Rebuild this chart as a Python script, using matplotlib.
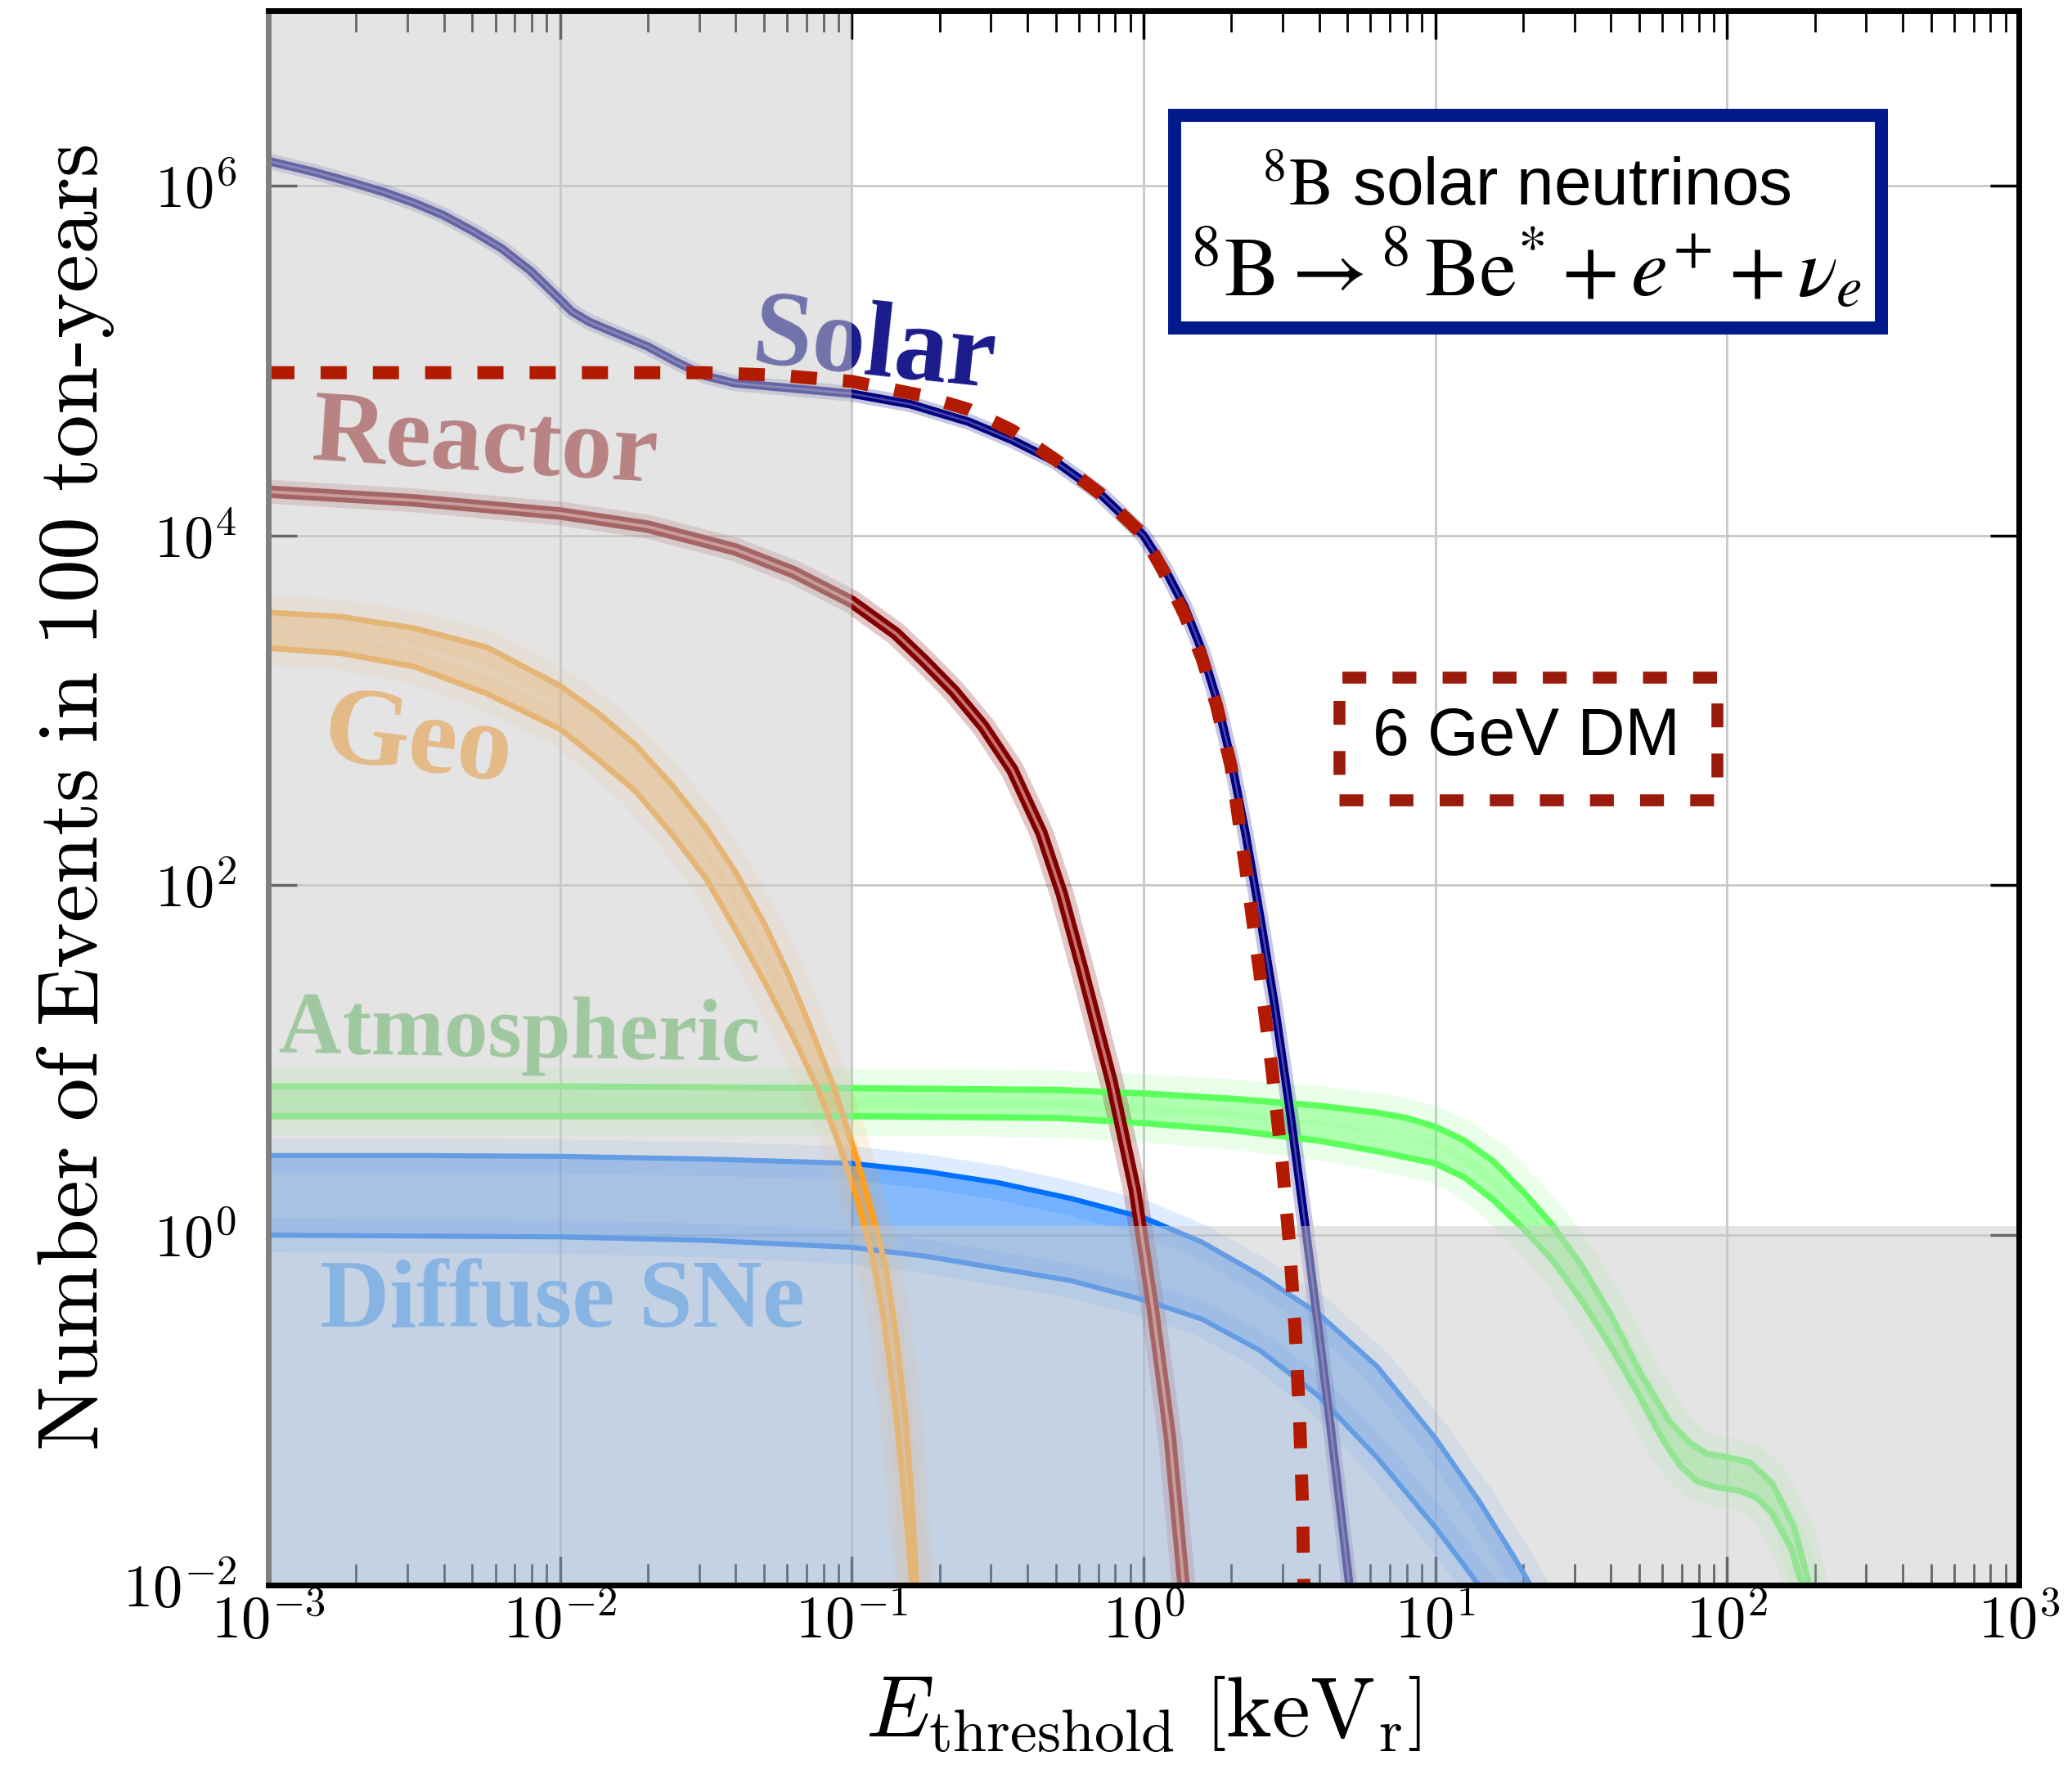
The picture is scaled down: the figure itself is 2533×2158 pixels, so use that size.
import numpy as np
import matplotlib.pyplot as plt
from matplotlib.patches import Polygon, Rectangle
from matplotlib.ticker import LogLocator, FixedLocator, FuncFormatter, NullLocator, NullFormatter

plt.rcParams['mathtext.fontset'] = 'cm'

# ---- event counts in 100 ton-years vs. recoil threshold (all values are log10) ----

# Solar (8B) neutrinos
solar_logE = [-3.0, -2.85, -2.72, -2.6, -2.5, -2.4, -2.3, -2.2, -2.1, -2.02, -1.96, -1.9,
              -1.8, -1.7, -1.6, -1.5, -1.4, -1.2, -1.0, -0.8, -0.6, -0.45, -0.3, -0.15,
              0.0, 0.07, 0.14, 0.2, 0.25, 0.3, 0.35, 0.4, 0.45, 0.5, 0.555, 0.6, 0.64,
              0.68, 0.709]
solar_logN = [6.14, 6.08, 6.02, 5.96, 5.90, 5.83, 5.74, 5.64, 5.51, 5.38, 5.28, 5.22,
              5.15, 5.08, 4.99, 4.91, 4.87, 4.84, 4.81, 4.75, 4.65, 4.545, 4.42, 4.24,
              4.0, 3.818, 3.594, 3.342, 3.067, 2.717, 2.292, 1.817, 1.307, 0.732, 0.045,
              -0.54, -1.08, -1.64, -2.05]

# Reactor antineutrinos
reactor_logE = [-3.0, -2.5, -2.0, -1.7, -1.4, -1.2, -1.0, -0.85, -0.75, -0.65, -0.55,
                -0.45, -0.35, -0.28, -0.21, -0.11, -0.03, 0.03, 0.09, 0.14]
reactor_logN = [4.25, 4.20, 4.125, 4.05, 3.92, 3.79, 3.62, 3.44, 3.28, 3.11, 2.91,
                2.66, 2.30, 1.95, 1.52, 0.88, 0.26, -0.40, -1.15, -2.05]

# Geoneutrinos (upper / lower edge of band)
geo_hi_logE = [-3.0, -2.75, -2.5, -2.25, -2.0, -1.87, -1.74, -1.62, -1.5, -1.4, -1.3,
               -1.22, -1.14, -1.06, -0.98, -0.93, -0.885, -0.85, -0.815, -0.795, -0.776]
geo_hi_logN = [3.56, 3.535, 3.47, 3.36, 3.14, 2.985, 2.80, 2.58, 2.33, 2.08, 1.78,
               1.50, 1.18, 0.84, 0.42, 0.12, -0.17, -0.55, -1.05, -1.5, -2.05]
geo_lo_logE = [-3.0, -2.75, -2.5, -2.25, -2.0, -1.87, -1.74, -1.62, -1.5, -1.4, -1.3,
               -1.2, -1.12, -1.05, -0.98, -0.93, -0.89, -0.85, -0.82, -0.79]
geo_lo_logN = [3.356, 3.326, 3.25, 3.095, 2.893, 2.72, 2.535, 2.30, 2.04, 1.75, 1.45,
               1.13, 0.85, 0.55, 0.20, -0.12, -0.48, -1.0, -1.5, -2.05]

# Atmospheric neutrinos
atm_hi_logE = [-3.0, -2.0, -1.0, -0.3, 0.0, 0.3, 0.6, 0.8, 0.9, 1.0, 1.1, 1.2, 1.3, 1.4,
               1.5, 1.6, 1.7, 1.8, 1.875, 1.93, 2.0, 2.08, 2.155, 2.23, 2.29]
atm_hi_logN = [0.85, 0.85, 0.84, 0.83, 0.81, 0.78, 0.74, 0.70, 0.67, 0.62, 0.54, 0.42,
               0.25, 0.06, -0.17, -0.45, -0.78, -1.06, -1.19, -1.25, -1.27, -1.30, -1.42,
               -1.67, -2.05]
atm_lo_logE = [-3.0, -2.0, -1.0, -0.3, 0.0, 0.3, 0.6, 0.8, 1.0, 1.1, 1.2, 1.3, 1.4, 1.5,
               1.6, 1.7, 1.78, 1.84, 1.9, 1.96, 2.04, 2.1, 2.155, 2.22, 2.265]
atm_lo_logN = [0.68, 0.68, 0.68, 0.67, 0.64, 0.60, 0.54, 0.48, 0.41, 0.33, 0.20, 0.04,
               -0.14, -0.37, -0.63, -0.92, -1.17, -1.32, -1.41, -1.44, -1.46, -1.50,
               -1.59, -1.79, -2.05]

# Diffuse supernova neutrinos
dsn_hi_logE = [-3.0, -2.5, -2.0, -1.5, -1.0, -0.75, -0.5, -0.25, 0.0, 0.2, 0.4, 0.6,
               0.8, 1.0, 1.15, 1.27, 1.344]
dsn_hi_logN = [0.455, 0.455, 0.45, 0.435, 0.41, 0.365, 0.30, 0.21, 0.10, -0.04, -0.23,
               -0.45, -0.75, -1.16, -1.52, -1.84, -2.05]
dsn_lo_logE = [-3.0, -2.5, -2.0, -1.5, -1.0, -0.75, -0.5, -0.25, 0.0, 0.2, 0.4, 0.6,
               0.8, 1.0, 1.1, 1.17]
dsn_lo_logN = [0.0, -0.005, -0.01, -0.03, -0.07, -0.12, -0.19, -0.26, -0.37, -0.48,
               -0.66, -0.92, -1.27, -1.67, -1.89, -2.05]

# 6 GeV dark matter signal
dm_logE = [-3.0, -1.5, -1.25, -1.0, -0.76, -0.6, -0.45, -0.3, -0.15, 0.0, 0.07, 0.14,
           0.2, 0.25, 0.3, 0.35, 0.40, 0.44, 0.475, 0.50, 0.52, 0.535, 0.545, 0.55]
dm_logN = [4.93, 4.93, 4.915, 4.88, 4.80, 4.72, 4.60, 4.43, 4.24, 4.0, 3.79, 3.55,
           3.30, 3.03, 2.68, 2.10, 1.48, 0.95, 0.42, -0.05, -0.55, -1.05, -1.55, -2.05]


def lin(a):
    return 10 ** np.asarray(a, dtype=float)


fig = plt.figure(figsize=(25.33, 21.58), dpi=100)
ax = fig.add_axes([0.1295, 0.102, 0.8448, 0.892])
ax.set_xscale('log')
ax.set_yscale('log')
ax.set_xlim(1e-3, 1e3)
ax.set_ylim(1e-2, 1e7)


def band(lo_x, lo_y, hi_x, hi_y, color, fill_alpha, lw, glow):
    xs = np.concatenate([lin(hi_x), lin(lo_x)[::-1]])
    ys = np.concatenate([lin(hi_y), lin(lo_y)[::-1]])
    ax.fill(xs, ys, color=color, alpha=fill_alpha, lw=0, zorder=1)
    for x, y in ((lo_x, lo_y), (hi_x, hi_y)):
        ax.plot(lin(x), lin(y), color=color, lw=glow, alpha=0.13, zorder=1.5,
                solid_capstyle='butt', solid_joinstyle='round')
        ax.plot(lin(x), lin(y), color=color, lw=lw, zorder=2, solid_capstyle='butt',
                solid_joinstyle='round')


def thick_curve(x, y, color, inner, lw, glow):
    kw = dict(solid_capstyle='butt', solid_joinstyle='round')
    ax.plot(lin(x), lin(y), color=color, lw=glow, alpha=0.22, zorder=1.5, **kw)
    ax.plot(lin(x), lin(y), color=color, lw=lw, zorder=2, **kw)
    ax.plot(lin(x), lin(y), color=inner, lw=lw * 0.25, zorder=2.1, **kw)


# diffuse SNe: light fill below the band, stronger fill inside it
ax.fill(np.concatenate([lin(dsn_lo_logE), [1e-3]]),
        np.concatenate([lin(dsn_lo_logN), [10 ** -2.05]]),
        color='#0070ff', alpha=0.25, lw=0, zorder=0.9)
band(dsn_lo_logE, dsn_lo_logN, dsn_hi_logE, dsn_hi_logN, '#0070ff', 0.48, 4.5, 30)
band(atm_lo_logE, atm_lo_logN, atm_hi_logE, atm_hi_logN, '#5cff5c', 0.4, 5.5, 34)
band(geo_lo_logE, geo_lo_logN, geo_hi_logE, geo_hi_logN, '#ff9f20', 0.42, 5, 30)
thick_curve(reactor_logE, reactor_logN, '#800000', '#c87070', 11, 21)
thick_curve(solar_logE, solar_logN, '#000080', '#4646a8', 7.5, 14)

# source labels
lab = dict(family='Liberation Serif', weight='bold', zorder=2.5,
           ha='left', va='baseline', rotation_mode='anchor')
ax.text(10 ** -1.349, 10 ** 4.993, 'Solar', color='#1a1a8c', fontsize=94, rotation=-6, **lab)
ax.text(10 ** -2.854, 10 ** 4.435, 'Reactor', color='#a53939', fontsize=90, rotation=-3.7, **lab)
ax.text(10 ** -2.821, 10 ** 2.722, 'Geo', color='#ffa943', fontsize=97, rotation=-7, **lab)
ax.text(10 ** -2.964, 10 ** 1.042, 'Atmospheric', color='#75c575', fontsize=77, rotation=-1, **lab)
ax.text(10 ** -2.823, 10 ** -0.522, 'Diffuse SNe', color='#459dff', fontsize=85, **lab)

# greyed-out region (below 100 eV or fewer than ~1 event)
ax.add_patch(Polygon([(1e-3, 1e-2), (1e-3, 1e7), (0.1, 1e7), (0.1, 1.13),
                      (1e3, 1.13), (1e3, 1e-2)],
                     closed=True, facecolor='#cbcbcb', alpha=0.5, lw=0, zorder=3))

# dark matter spectrum
ax.plot(lin(dm_logE), lin(dm_logN), color='#b31b00', lw=11.5, dashes=(2, 2),
        dash_capstyle='butt', zorder=4)

# annotation boxes
ax.add_patch(Rectangle((0.5178, 0.7984), 0.4037, 0.1351, transform=ax.transAxes,
                       facecolor='white', edgecolor='#001a8c', lw=11.5, zorder=5))
ax.text(0.7187, 0.877, r'$^{8}\mathrm{B}$ solar neutrinos', transform=ax.transAxes,
        ha='center', va='baseline', fontsize=59, family='Liberation Sans',
        math_fontfamily='stix', zorder=6)
ax.text(0.7187, 0.819, r'$^{8}\mathrm{B}\rightarrow^{8}\,\mathrm{Be}^{*}+e^{+}+\nu_{e}$',
        transform=ax.transAxes, ha='center', va='baseline', fontsize=73,
        math_fontfamily='stix', zorder=6)

ax.add_patch(Rectangle((0.6117, 0.4987), 0.2159, 0.0779, transform=ax.transAxes,
                       facecolor='none', edgecolor='#9a1a0c', lw=10.5,
                       linestyle=(0, (2, 2.2)), zorder=5))
ax.text(0.7187, 0.5382, '6 GeV DM', transform=ax.transAxes, ha='center', va='center',
        fontsize=58, family='Liberation Sans', zorder=6)

# axes styling
ax.set_axisbelow(True)
ax.grid(True, which='major', color='#c8c8c8', lw=2)
ax.xaxis.set_major_locator(LogLocator(base=10, numticks=20))
ax.xaxis.set_minor_locator(LogLocator(base=10, subs=np.arange(2, 10), numticks=20))
ax.yaxis.set_major_locator(FixedLocator([1e-2, 1e0, 1e2, 1e4, 1e6]))
ax.yaxis.set_minor_locator(NullLocator())
fmt = FuncFormatter(lambda v, pos: r'$10^{%d}$' % round(np.log10(v)))
ax.xaxis.set_major_formatter(fmt)
ax.yaxis.set_major_formatter(fmt)
ax.xaxis.set_minor_formatter(NullFormatter())
ax.tick_params(which='both', direction='in', top=True, right=True, labelsize=52)
ax.tick_params(which='major', length=25, width=2.5)
ax.tick_params(which='minor', length=19, width=2)
ax.tick_params(axis='x', pad=8)
ax.tick_params(axis='y', pad=28)

for side, sp in ax.spines.items():
    sp.set_linewidth(5)
    sp.set_zorder(6)
ax.spines['left'].set_color('#808080')

ax.set_xlabel(r'$E_{\rm threshold}\ \left[\mathrm{keV}_{\rm r}\right]$', fontsize=76)
ax.xaxis.set_label_coords(0.5, -0.055)
ax.xaxis.label.set_va('top')
ax.set_ylabel(r'$\mathrm{Number\ of\ Events\ in\ 100\ ton\text{-}years}$', fontsize=76)
ax.yaxis.set_label_coords(-0.087, 0.5)

fig.savefig('out.png', dpi=100)
